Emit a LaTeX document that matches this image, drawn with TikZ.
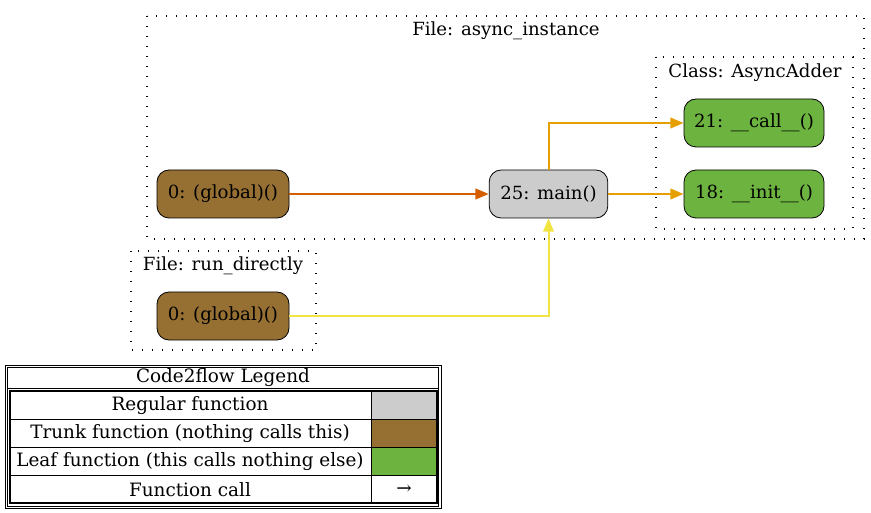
\documentclass[tikz,border=0pt]{standalone}
\usepackage{fontspec}
\setmainfont{DejaVu Serif}
\usetikzlibrary{arrows.meta}
\definecolor{regular}{HTML}{CCCCCC}
\definecolor{trunk}{HTML}{966F33}
\definecolor{leaf}{HTML}{6DB33F}
\definecolor{edgeA}{HTML}{D55E00}
\definecolor{edgeB}{HTML}{E69F00}
\definecolor{edgeC}{HTML}{F0E442}
\begin{document}
\begin{tikzpicture}[x=0.75pt,y=-0.75pt,
  fn/.style={draw=black,line width=0.6pt,rounded corners=9pt,minimum height=36pt,inner sep=0pt,font=\fontsize{13.6}{15}\selectfont},
  cluster/.style={draw=black,line width=0.9pt,dash pattern=on 0.9pt off 6.6pt},
  lbl/.style={font=\fontsize{13.6}{15}\selectfont},
  call/.style={line width=1.5pt,-{Triangle[length=10pt,width=8pt]}},
  legtxt/.style={font=\fontsize{13.8}{15}\selectfont}]
\useasboundingbox (0,0) rectangle (871,513);
% clusters
\draw[cluster] (147,16) rectangle (864,239);
\node[lbl] (lblA) at (506,31) {File: async\_instance};
\draw[cluster] (656,57) rectangle (853,229);
\node[lbl] (lblC) at (755,73) {Class: AsyncAdder};
\draw[cluster] (131,251) rectangle (316,350);
\node[lbl] (lblR) at (223,266) {File: run\_directly};
% nodes
\node[fn,fill=trunk,minimum width=99pt] (g1) at (223,194) {0: (global)()};
\node[fn,fill=regular,minimum width=89pt] (main) at (548.5,194) {25: main()};
\node[fn,fill=leaf,minimum width=105pt] (call) at (754,123) {21: \_\_call\_\_()};
\node[fn,fill=leaf,minimum width=105pt] (init) at (754,194) {18: \_\_init\_\_()};
\node[fn,fill=trunk,minimum width=99pt] (g2) at (223,316) {0: (global)()};
% edges
\draw[call,edgeA] (g1.east) -- (main.west);
\draw[call,edgeB] (main.north) |- (call.west);
\draw[call,edgeB] (main.east) -- (init.west);
\draw[call,edgeC] (g2.east) -| (main.south);
% legend
\draw[line width=0.6pt,fill=white] (5,365) rectangle (441,508);
\draw[line width=0.6pt] (7.5,367) rectangle (438.5,506);
\draw[line width=0.6pt] (7.5,388) -- (438.5,388);
\node[legtxt] (legtitle) at (223,378) {Code2flow Legend};
\fill[regular] (371,391) rectangle (437,419);
\fill[trunk] (371,419) rectangle (437,447);
\fill[leaf] (371,447) rectangle (437,475);
\draw[line width=0.6pt] (10,419) -- (437,419) (10,447) -- (437,447) (10,475) -- (437,475) (371,391) -- (371,503);
\draw[line width=1.8pt] (10,391) rectangle (437,503);
\node[legtxt] (l1) at (190,406) {Regular function};
\node[legtxt] (l2) at (190,434) {Trunk function (nothing calls this)};
\node[legtxt] (l3) at (190,462) {Leaf function (this calls nothing else)};
\node[legtxt] (l4) at (190,490) {Function call};
\node[legtxt] (l5) at (404,490) {→};
\end{tikzpicture}
\end{document}
